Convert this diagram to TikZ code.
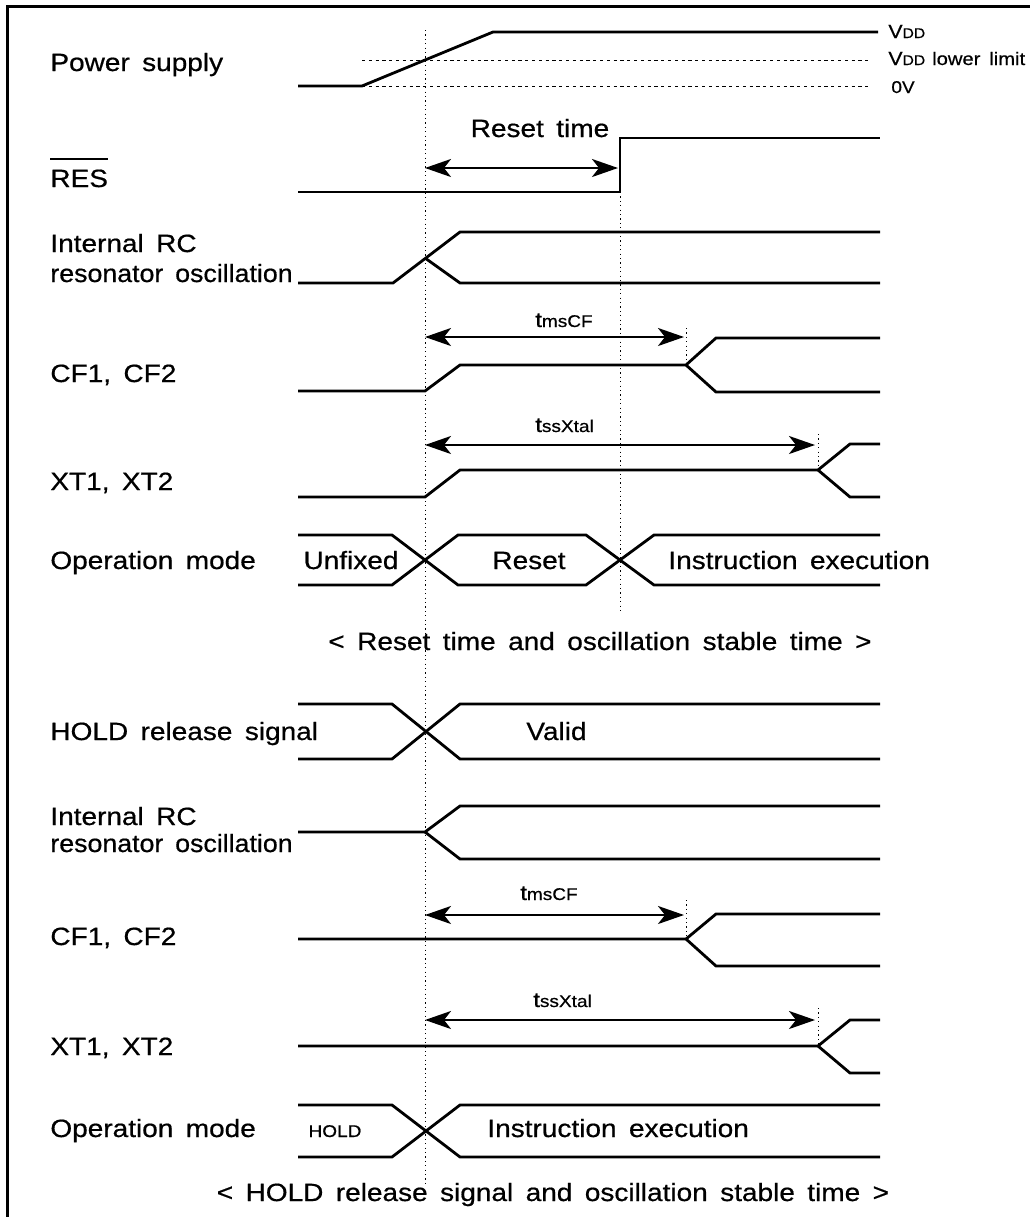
\documentclass[tikz,border=0pt]{standalone}
\usepackage{fontspec}
\setmainfont{Liberation Sans}[FakeStretch=1.12, WordSpace=1.6, FakeBold=0.6]
\usetikzlibrary{arrows.meta}
\begin{document}
\begin{tikzpicture}[x=0.5pt,y=-0.5pt,
  sig/.style={line width=1.4pt, line join=miter},
  guide/.style={line width=0.5pt, dash pattern=on 0.6pt off 1.6pt},
  lvl/.style={line width=0.5pt, dash pattern=on 1.6pt off 1.8pt},
  dim/.style={line width=1.2pt, {Stealth[length=13pt,width=9pt,inset=3.5pt]}-{Stealth[length=13pt,width=9pt,inset=3.5pt]}},
  lbl/.style={inner sep=0pt, anchor=base west, font=\fontsize{12.5}{14}\selectfont},
  clbl/.style={inner sep=0pt, anchor=base, font=\fontsize{12.5}{14}\selectfont},
  sml/.style={inner sep=0pt, anchor=base west, font=\fontsize{8.5}{10}\selectfont},
  tlbl/.style={inner sep=0pt, anchor=base west, font=\fontsize{10.5}{12}\selectfont}]
\useasboundingbox (0,0) rectangle (1030,1217);
% frame
\draw[line width=1.5pt] (7,1217) -- (7,6) -- (1030,6);

% guide lines
\draw[guide] (425,30) -- (425,1183);
\draw[guide] (620,192) -- (620,612);
\draw[guide] (686,328) -- (686,365);
\draw[guide] (818,434) -- (818,470);
\draw[guide] (686,900) -- (686,938);
\draw[guide] (818,1008) -- (818,1045);

% ===== Power supply =====
\node[lbl] (ps) at (50,71) {Power supply};
\draw[lvl] (362,60) -- (868,60);
\draw[lvl] (362,86) -- (870,86);
\draw[sig] (298,86) -- (362,86) -- (493,32) -- (878,32);
\node[inner sep=0pt, anchor=base west] (vdd) at (888,38) {\fontsize{9.5}{10}\selectfont V\fontsize{7}{8}\selectfont DD};
\node[inner sep=0pt, anchor=base west] (vddl) at (888,65) {\fontsize{9.5}{10}\selectfont V\fontsize{7}{8}\selectfont DD \fontsize{9}{10}\selectfont lower limit};
\node[inner sep=0pt, anchor=base west] (zv) at (891,93) {\fontsize{8.5}{10}\selectfont 0V};

% ===== RES =====
\node[lbl] (res) at (50,187) {RES};
\draw[line width=0.9pt] ([yshift=5pt]res.north west) -- ([yshift=5pt]res.north east);
\draw[sig] (298,192) -- (620,192) -- (620,138) -- (880,138);
\draw[dim] (425,168) -- (618,168);
\node[clbl] (rt) at (540,137) {Reset time};

% ===== Internal RC (reset) =====
\node[lbl] (irc1) at (50,252) {Internal RC};
\node[lbl] (irc1b) at (50,282) {\scalebox{0.955}[1]{resonator oscillation}};
\draw[sig] (298,283) -- (393,283) -- (460,232) -- (880,232);
\draw[sig] (425,258) -- (460,283) -- (880,283);

% ===== CF1, CF2 (reset) =====
\node[lbl] (cf1) at (50,382) {CF1, CF2};
\draw[dim] (425,337) -- (684,337);
\node[tlbl] (tm1) at (535,327) {t\fontsize{8.5}{10}\selectfont msCF};
\draw[sig] (298,391) -- (425,391) -- (460,365) -- (686,365) -- (716,338) -- (880,338);
\draw[sig] (686,365) -- (716,392) -- (880,392);

% ===== XT1, XT2 (reset) =====
\node[lbl] (xt1) at (50,490) {XT1, XT2};
\draw[dim] (425,445) -- (815,445);
\node[tlbl] (ts1) at (535,432) {t\fontsize{8.5}{10}\selectfont ssXtal};
\draw[sig] (298,497) -- (425,497) -- (460,470) -- (818,470) -- (850,444) -- (880,444);
\draw[sig] (818,470) -- (850,497) -- (880,497);

% ===== Operation mode (reset) =====
\node[lbl] (om1) at (50,569) {Operation mode};
\draw[sig] (298,535) -- (392,535) -- (458,585) -- (586,585) -- (654,535) -- (880,535);
\draw[sig] (298,585) -- (392,585) -- (458,535) -- (586,535) -- (654,585) -- (880,585);
\node[clbl] (unf) at (351,569) {Unfixed};
\node[clbl] (rst) at (529,569) {Reset};
\node[lbl] (ie1) at (668,569) {Instruction execution};

\node[clbl] (cap1) at (600,650) {< Reset time and oscillation stable time >};

% ===== HOLD release signal =====
\node[lbl] (hrs) at (50,740) {HOLD release signal};
\draw[sig] (298,704) -- (392,704) -- (460,759) -- (880,759);
\draw[sig] (298,759) -- (392,759) -- (460,704) -- (880,704);
\node[lbl] (val) at (526,740) {Valid};

% ===== Internal RC (hold) =====
\node[lbl] (irc2) at (50,825) {Internal RC};
\node[lbl] (irc2b) at (50,852) {\scalebox{0.955}[1]{resonator oscillation}};
\draw[sig] (298,832) -- (425,832) -- (460,806) -- (880,806);
\draw[sig] (425,832) -- (460,859) -- (880,859);

% ===== CF1, CF2 (hold) =====
\node[lbl] (cf2) at (50,945) {CF1, CF2};
\draw[dim] (425,915) -- (684,915);
\node[tlbl] (tm2) at (520,900) {t\fontsize{8.5}{10}\selectfont msCF};
\draw[sig] (298,939) -- (686,939) -- (716,914) -- (880,914);
\draw[sig] (686,939) -- (716,966) -- (880,966);

% ===== XT1, XT2 (hold) =====
\node[lbl] (xt2) at (50,1055) {XT1, XT2};
\draw[dim] (425,1020) -- (815,1020);
\node[tlbl] (ts2) at (533,1007) {t\fontsize{8.5}{10}\selectfont ssXtal};
\draw[sig] (298,1046) -- (818,1046) -- (850,1020) -- (880,1020);
\draw[sig] (818,1046) -- (850,1073) -- (880,1073);

% ===== Operation mode (hold) =====
\node[lbl] (om2) at (50,1137) {Operation mode};
\draw[sig] (298,1105) -- (392,1105) -- (460,1157) -- (880,1157);
\draw[sig] (298,1157) -- (392,1157) -- (460,1105) -- (880,1105);
\node[sml, anchor=base] (hold) at (335,1137) {HOLD};
\node[lbl] (ie2) at (487,1137) {Instruction execution};

\node[clbl] (cap2) at (553,1201) {< HOLD release signal and oscillation stable time >};
\end{tikzpicture}
\end{document}
